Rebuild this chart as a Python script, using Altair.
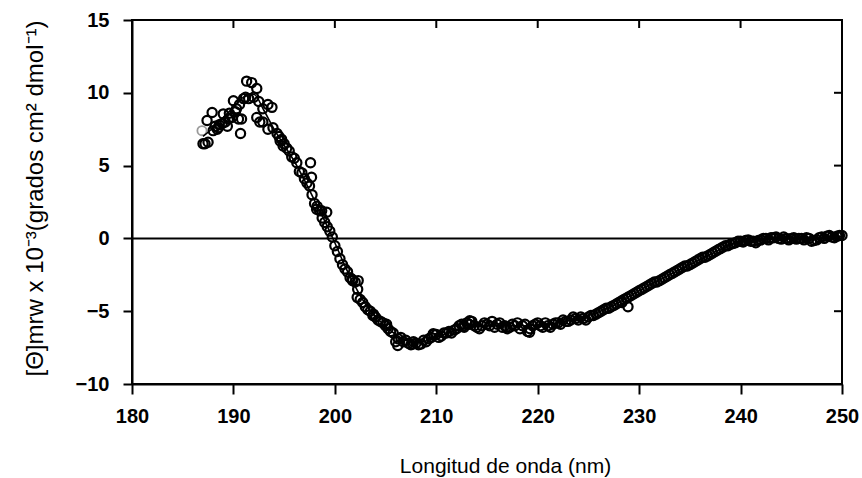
import altair as alt
import pandas as pd

# --- data ---
# sparse, scattered circles in the positive band (wavelength nm, value)
early_x = [187.0, 187.2, 187.5, 187.4, 187.9, 188.0, 188.2, 188.4, 188.5, 188.6, 188.9, 189.0,
           189.2, 189.4, 189.5, 189.6, 189.85, 190.0, 190.2, 190.3, 190.5, 190.6, 190.7, 190.8,
           191.0, 191.2, 191.3, 191.5, 191.8, 192.0, 192.3, 192.3, 192.5, 192.6, 192.9, 192.9,
           193.4, 193.4, 193.8, 193.9, 194.3, 194.6, 194.9]
early_y = [6.5, 6.5, 6.6, 8.1, 8.65, 7.4, 7.7, 7.5, 7.6, 7.8, 7.9, 8.55,
           8.0, 7.7, 8.2, 8.6, 8.3, 9.45, 8.7, 8.9, 8.2, 9.2, 7.2, 8.2,
           9.6, 9.7, 10.8, 9.6, 10.7, 9.7, 10.3, 8.3, 9.4, 8.0, 8.0, 8.9,
           9.2, 7.5, 9.0, 7.6, 7.2, 6.7, 6.35]

# dense circles, every 0.5 nm from 194.5 to 250 nm
dense_a_start = 194.5
dense_a_y = [7.0, 6.5, 6.0, 5.5, 4.6, 4.1, 3.6, 2.4, 1.9, 1.1, 0.5, -0.5,
             -1.4, -2.1, -2.7, -3.0, -4.2, -4.7, -5.0, -5.4, -5.7, -6.0, -6.4, -7.1,
             -6.8, -7.0, -7.3, -7.2, -7.25, -7.1, -6.8, -6.6, -6.7, -6.5, -6.5, -6.2,
             -5.9, -5.8, -5.7, -6.1, -6.0, -5.9, -5.7, -5.9, -6.1, -6.2, -5.9, -5.8,
             -6.0, -6.4, -6.0, -5.8, -6.1, -6.0, -5.9, -5.8, -5.6, -5.7, -5.4, -5.6,
             -5.5, -5.4, -5.3, -5.1, -4.9, -4.8, -4.6, -4.4, -4.2, -4.0, -3.8, -3.6,
             -3.4, -3.2, -3.0, -2.9, -2.7, -2.5, -2.3, -2.1, -1.9, -1.8, -1.6, -1.4,
             -1.3, -1.1, -0.9, -0.7, -0.5, -0.4, -0.3, -0.2, -0.15, -0.2, -0.3, -0.1,
             0.0, 0.05, 0.1, -0.05, 0.0, 0.0, -0.05, 0.0, 0.05, -0.2, -0.1, 0.1,
             0.15, 0.1, 0.15, 0.2]
# dense circles in between, every 0.5 nm from 194.75 nm
dense_b_start = 194.75
dense_b_y = [6.8, 6.2, 5.6, 5.2, 4.5, 3.8, 3.0, 2.2, 1.4, 0.8, 0.1, -0.9,
             -1.8, -2.3, -2.9, -3.5, -4.4, -4.9, -5.3, -5.6, -5.8, -6.2, -6.5, -6.9,
             -7.1, -7.2, -7.1, -7.3, -7.0, -6.9, -6.6, -6.8, -6.5, -6.4, -6.3, -6.0,
             -6.1, -5.9, -6.0, -6.2, -5.8, -6.0, -6.1, -5.8, -6.0, -6.1, -6.0, -6.2,
             -5.9, -6.2, -5.9, -6.0, -5.8, -6.1, -5.8, -5.9, -5.7, -5.6, -5.5, -5.4,
             -5.6, -5.3, -5.2, -5.0, -4.8, -4.7, -4.5, -4.3, -4.1, -3.9, -3.7, -3.5,
             -3.3, -3.1, -3.0, -2.8, -2.6, -2.4, -2.2, -2.0, -1.9, -1.7, -1.5, -1.3,
             -1.2, -1.0, -0.8, -0.6, -0.5, -0.35, -0.2, -0.25, -0.1, -0.2, -0.15, 0.0,
             -0.1, 0.05, 0.0, 0.1, -0.1, 0.05, 0.0, -0.1, 0.0, -0.15, 0.05, 0.0,
             0.2, 0.05, 0.2]
dense_step = 0.5

# individual off-band circles
extra_x = [197.6, 197.7, 198.2, 198.7, 199.2, 201.7, 202.3, 202.2, 203.8, 205.1, 206.2,
           207.7, 209.7, 212.7, 213.3, 216.9, 219.2, 228.9, 228.3]
extra_y = [5.2, 4.2, 2.0, 1.9, 1.8, -2.8, -2.9, -4.05, -5.2, -5.9, -7.35,
           -7.25, -6.55, -6.0, -5.65, -6.1, -6.45, -4.7, -4.4]

# grey circle
grey_x = [186.9]
grey_y = [7.4]

# fitted curve, every 1 nm
fit_x = list(range(187, 251))
fit_y = [7.0, 7.6, 8.3, 9.0, 9.7, 9.9, 8.8, 7.5, 6.4, 5.3, 4.0, 2.6,
         1.2, -0.3, -1.9, -3.3, -4.5, -5.35, -6.05, -6.6, -7.0, -7.15, -7.05, -6.8,
         -6.55, -6.3, -6.15, -6.05, -6.0, -6.0, -6.0, -6.0, -6.0, -5.95, -5.9, -5.8,
         -5.65, -5.5, -5.3, -5.05, -4.75, -4.4, -4.0, -3.6, -3.2, -2.85, -2.5, -2.15,
         -1.8, -1.45, -1.1, -0.75, -0.45, -0.25, -0.15, -0.1, -0.05, 0.0, 0.0, 0.0,
         0.05, 0.05, 0.1, 0.15]

x_ticks = [180, 190, 200, 210, 220, 230, 240, 250]
y_ticks = [-10, -5, 0, 5, 10, 15]
top_ticks = [190, 200, 210, 220, 230, 240]
right_ticks = [-5, 0, 5, 10]

x_title = "Longitud de onda (nm)"
y_title = "[Θ]mrw x 10⁻³(grados cm² dmol⁻¹)"

# --- build tables ---
dense_a_x = [round(dense_a_start + i * dense_step, 2) for i in range(len(dense_a_y))]
dense_b_x = [round(dense_b_start + i * dense_step, 2) for i in range(len(dense_b_y))]
circles = pd.DataFrame({"wl": early_x + dense_a_x + dense_b_x + extra_x,
                        "val": early_y + dense_a_y + dense_b_y + extra_y})
grey = pd.DataFrame({"wl": grey_x, "val": grey_y})
fit = pd.DataFrame({"wl": fit_x, "val": fit_y})

W, H = 710, 364
FONT = "Liberation Sans"

xs = alt.Scale(domain=[180, 250], nice=False, zero=False)
ys = alt.Scale(domain=[-10, 15], nice=False, zero=False)

xaxis = alt.Axis(values=x_ticks, title=x_title, grid=False, tickSize=10, tickWidth=2,
                 domainWidth=2, domainColor="black", tickColor="black",
                 labelFont=FONT, labelFontSize=20, labelFontWeight="bold", labelColor="black",
                 labelPadding=12, titleFont=FONT, titleFontSize=21, titleFontWeight="normal",
                 titleColor="black", titleX=373, titleY=82, titleBaseline="middle",
                 labelFlush=False)
yaxis = alt.Axis(values=y_ticks, title=y_title, grid=False, tickSize=9, tickWidth=2,
                 domainWidth=2, domainColor="black", tickColor="black",
                 labelFont=FONT, labelFontSize=20, labelFontWeight="bold", labelColor="black",
                 labelPadding=14, titleFont=FONT, titleFontSize=24, titleFontWeight="normal",
                 titleColor="black", titleX=-97, titleY=178, titleBaseline="middle",
                 titleAngle=-90, labelFlush=False)

pts = alt.Chart(circles).mark_point(shape="circle", filled=False, color="black",
                                    strokeWidth=2.2, size=85, opacity=1).encode(
    x=alt.X("wl:Q", scale=xs, axis=xaxis), y=alt.Y("val:Q", scale=ys, axis=yaxis))

zero = alt.Chart(pd.DataFrame({"v": [0]})).mark_rule(color="black", strokeWidth=2).encode(
    y=alt.Y("v:Q", scale=ys))

line = alt.Chart(fit).mark_line(color="black", strokeWidth=1.6, interpolate="monotone").encode(
    x=alt.X("wl:Q", scale=xs), y=alt.Y("val:Q", scale=ys))

gpts = alt.Chart(grey).mark_point(shape="circle", filled=False, color="#9a9a9a",
                                  strokeWidth=1.8, size=85, opacity=1).encode(
    x=alt.X("wl:Q", scale=xs), y=alt.Y("val:Q", scale=ys))

tt = alt.Chart(pd.DataFrame({"t": top_ticks})).mark_rule(color="black", strokeWidth=2).encode(
    x=alt.X("t:Q", scale=xs), y=alt.value(0), y2=alt.value(8))

rt = alt.Chart(pd.DataFrame({"t": right_ticks})).mark_rule(color="black", strokeWidth=2).encode(
    y=alt.Y("t:Q", scale=ys), x=alt.value(W), x2=alt.value(W - 8))

chart = alt.layer(pts, zero, gpts, line, tt, rt).properties(
    width=W, height=H,
    autosize=alt.AutoSizeParams(type="none"),
    padding={"left": 132, "top": 20, "right": 20, "bottom": 94},
    background="white",
).configure_view(stroke="black", strokeWidth=2)

chart.save("out.html", embed_options={"renderer": "svg", "actions": False})
